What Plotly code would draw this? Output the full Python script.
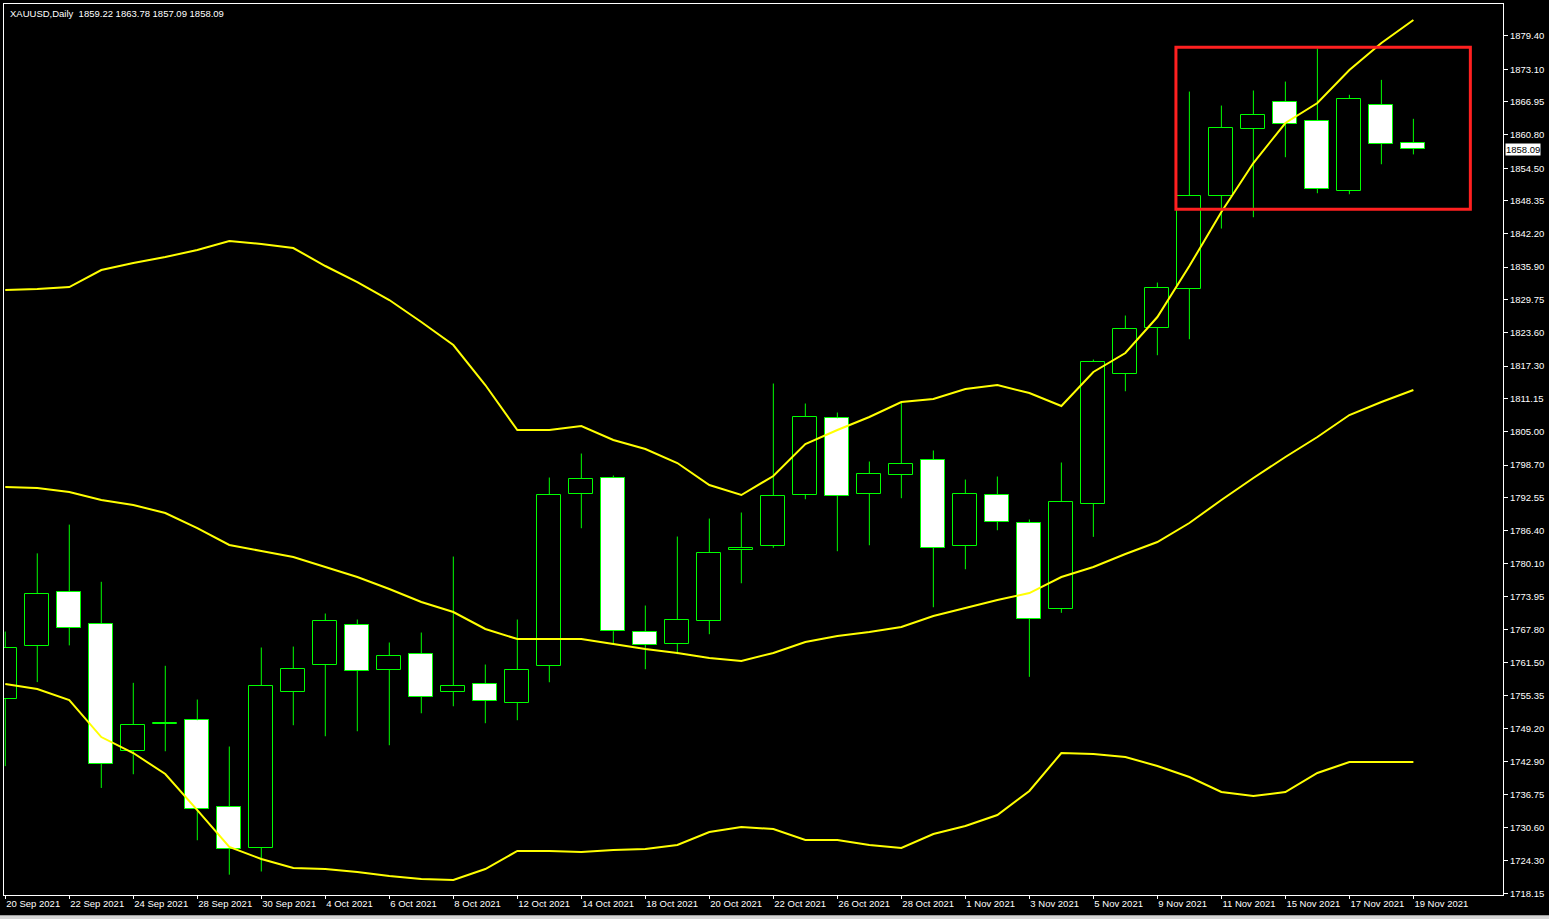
import plotly.graph_objects as go

# ---------------- data ----------------
dates = [
    "20 Sep 2021", "21 Sep 2021", "22 Sep 2021", "23 Sep 2021", "24 Sep 2021",
    "27 Sep 2021", "28 Sep 2021", "29 Sep 2021", "30 Sep 2021", "1 Oct 2021",
    "4 Oct 2021", "5 Oct 2021", "6 Oct 2021", "7 Oct 2021", "8 Oct 2021",
    "11 Oct 2021", "12 Oct 2021", "13 Oct 2021", "14 Oct 2021", "15 Oct 2021",
    "18 Oct 2021", "19 Oct 2021", "20 Oct 2021", "21 Oct 2021", "22 Oct 2021",
    "25 Oct 2021", "26 Oct 2021", "27 Oct 2021", "28 Oct 2021", "29 Oct 2021",
    "1 Nov 2021", "2 Nov 2021", "3 Nov 2021", "4 Nov 2021", "5 Nov 2021",
    "8 Nov 2021", "9 Nov 2021", "10 Nov 2021", "11 Nov 2021", "12 Nov 2021",
    "15 Nov 2021", "16 Nov 2021", "17 Nov 2021", "18 Nov 2021", "19 Nov 2021",
]

opens = [1754.75, 1764.70, 1774.90, 1768.85, 1744.98, 1750.10, 1750.73, 1734.45, 1726.74, 1756.07,
         1761.14, 1768.66, 1760.20, 1763.21, 1756.07, 1757.57, 1754.00, 1760.96, 1793.29, 1796.29,
         1767.35, 1765.09, 1769.41, 1782.76, 1783.51, 1793.10, 1807.50, 1793.29, 1796.86, 1799.68,
         1783.51, 1793.10, 1787.84, 1771.67, 1791.41, 1815.84, 1824.49, 1831.82, 1849.30, 1861.90,
         1866.97, 1863.40, 1850.24, 1866.40, 1859.22]
highs = [1767.40, 1782.10, 1787.50, 1776.75, 1757.76, 1760.96, 1754.62, 1745.79, 1764.40, 1764.58,
         1770.79, 1769.66, 1765.34, 1767.21, 1781.50, 1761.20, 1769.66, 1796.35, 1800.86, 1796.73,
         1772.29, 1785.26, 1788.64, 1789.77, 1814.02, 1810.26, 1808.57, 1799.36, 1810.64, 1801.43,
         1795.97, 1796.54, 1788.46, 1799.17, 1818.53, 1826.80, 1833.00, 1868.90, 1866.27, 1869.10,
         1870.78, 1876.99, 1868.29, 1871.10, 1863.78]
lows = [1742.10, 1757.90, 1764.80, 1738.00, 1740.58, 1744.90, 1728.17, 1721.70, 1722.30, 1749.79,
        1747.72, 1748.66, 1746.03, 1752.04, 1753.36, 1750.17, 1750.73, 1757.87, 1786.82, 1765.09,
        1760.32, 1763.14, 1766.90, 1776.48, 1783.14, 1792.27, 1782.50, 1783.62, 1792.46, 1771.97,
        1779.11, 1786.44, 1758.89, 1770.92, 1785.20, 1812.57, 1819.34, 1822.35, 1843.15, 1845.28,
        1856.56, 1849.79, 1849.60, 1855.24, 1857.09]
closes = [1764.34, 1774.50, 1768.10, 1742.50, 1749.87, 1750.25, 1734.08, 1726.56, 1757.20, 1760.39,
          1769.47, 1760.02, 1762.84, 1755.13, 1757.20, 1754.38, 1760.20, 1793.10, 1796.11, 1767.46,
          1764.90, 1769.60, 1782.20, 1783.14, 1792.90, 1807.76, 1792.91, 1797.05, 1798.93, 1783.14,
          1793.29, 1788.02, 1769.79, 1791.78, 1818.10, 1824.30, 1832.00, 1849.30, 1862.08, 1864.53,
          1862.84, 1850.62, 1867.53, 1859.08, 1858.09]

bb_upper = [1831.60, 1831.79, 1832.16, 1835.36, 1836.67, 1837.80, 1839.12, 1840.81, 1840.25, 1839.49,
            1836.11, 1833.10, 1829.72, 1825.58, 1821.26, 1813.74, 1805.28, 1805.28, 1806.04, 1803.40,
            1801.71, 1799.08, 1794.95, 1793.07, 1796.64, 1802.65, 1805.28, 1807.73, 1810.55, 1811.11,
            1812.99, 1813.74, 1812.24, 1809.79, 1816.19, 1819.76, 1826.52, 1836.11, 1846.26, 1855.47,
            1862.99, 1866.75, 1872.95, 1878.03, 1882.35]
bb_middle = [1794.57, 1794.38, 1793.63, 1792.13, 1791.19, 1789.68, 1786.86, 1783.67, 1782.54, 1781.41,
             1779.53, 1777.65, 1775.40, 1772.95, 1771.07, 1767.88, 1766.00, 1766.00, 1766.00, 1765.06,
             1764.12, 1763.37, 1762.43, 1761.86, 1763.37, 1765.43, 1766.56, 1767.31, 1768.25, 1770.32,
             1771.82, 1773.33, 1774.64, 1777.65, 1779.53, 1781.98, 1784.23, 1787.80, 1792.13, 1796.26,
             1800.21, 1803.97, 1808.10, 1810.55, 1812.80]
bb_lower = [1757.54, 1756.60, 1754.53, 1747.57, 1744.57, 1740.62, 1733.85, 1726.90, 1724.64, 1722.95,
            1722.76, 1722.20, 1721.45, 1720.88, 1720.70, 1722.76, 1726.15, 1726.15, 1725.96, 1726.34,
            1726.52, 1727.28, 1729.72, 1730.66, 1730.28, 1728.22, 1728.22, 1727.28, 1726.71, 1729.34,
            1730.85, 1732.92, 1737.43, 1744.57, 1744.38, 1743.82, 1742.13, 1740.06, 1737.24, 1736.49,
            1737.24, 1740.81, 1742.88, 1742.88, 1742.88]

price_ticks = [1879.40, 1873.10, 1866.95, 1860.80, 1854.50, 1848.35, 1842.20, 1835.90, 1829.75,
               1823.60, 1817.30, 1811.15, 1805.00, 1798.70, 1792.55, 1786.40, 1780.10, 1773.95,
               1767.80, 1761.50, 1755.35, 1749.20, 1742.90, 1736.75, 1730.60, 1724.30, 1718.15]

header_text = "XAUUSD,Daily\u00a0 1859.22 1863.78 1857.09 1858.09"
last_price = 1858.09

# highlighted zone (bar index range and price range)
box_bar_from, box_bar_to = 36.58, 45.78
box_price_low, box_price_high = 1846.77, 1877.22

# ---------------- styling ----------------
LIME = "#00ff00"
YELLOW = "#ffff00"
FONT = "Liberation Sans, Arial, sans-serif"

idx = list(range(len(dates)))
body_base = [min(o, c) for o, c in zip(opens, closes)]
body_len = [abs(c - o) for o, c in zip(opens, closes)]
body_fill = ["#000000" if c >= o else "#ffffff" for o, c in zip(opens, closes)]

wick_x, wick_y = [], []
for i, o, h, l, c in zip(idx, opens, highs, lows, closes):
    top, bot = max(o, c), min(o, c)
    wick_x += [i, i, None, i, i, None]
    wick_y += [h, top, None, bot, l, None]

fig = go.Figure()
fig.add_trace(go.Bar(
    x=idx, y=body_len, base=body_base, width=0.75,
    marker=dict(color=body_fill, line=dict(color=LIME, width=1)),
    hoverinfo="skip",
))
fig.add_trace(go.Scatter(x=wick_x, y=wick_y, mode="lines",
                         line=dict(color=LIME, width=1), hoverinfo="skip"))
for band in (bb_upper, bb_middle, bb_lower):
    fig.add_trace(go.Scatter(x=idx, y=band, mode="lines",
                             line=dict(color=YELLOW, width=2), hoverinfo="skip"))

fig.add_shape(type="rect", xref="x", yref="y",
              x0=box_bar_from, x1=box_bar_to, y0=box_price_low, y1=box_price_high,
              line=dict(color="#ff2020", width=3), fillcolor="rgba(0,0,0,0)")

# light window border strip at the bottom
fig.add_shape(type="rect", xref="paper", yref="paper",
              x0=-0.01, x1=1.04, y0=-0.0275, y1=-0.0226,
              line=dict(width=0), fillcolor="#d4d4d4", layer="above")

fig.add_annotation(xref="paper", yref="paper", x=0.0027, y=1, xanchor="left", yanchor="top",
                   yshift=-2, text=header_text, showarrow=False,
                   font=dict(color="white", size=9.5, family=FONT))
fig.add_annotation(xref="paper", yref="y", x=1, y=last_price, xanchor="left", yanchor="middle",
                   xshift=2, text=f"{last_price:.2f}", showarrow=False,
                   bgcolor="white", borderpad=0,
                   font=dict(color="black", size=9.5, family=FONT))

fig.update_layout(
    width=1549, height=919,
    margin=dict(l=4, r=46, t=4, b=24),
    paper_bgcolor="black", plot_bgcolor="black",
    showlegend=False, barmode="overlay", bargap=0, hovermode=False,
    xaxis=dict(
        range=[-0.04, 46.8],
        tickvals=idx[::2], ticktext=dates[::2],
        ticks="outside", ticklen=3, tickcolor="white",
        ticklabelposition="outside right",
        showline=True, linecolor="white", linewidth=1, mirror=True,
        showgrid=False, zeroline=False,
        tickfont=dict(color="white", size=9.5, family=FONT),
    ),
    yaxis=dict(
        side="right", range=[1717.88, 1885.36],
        tickvals=price_ticks, ticktext=[f"{v:.2f}" for v in price_ticks],
        ticks="outside", ticklen=4, tickcolor="white",
        showline=True, linecolor="white", linewidth=1, mirror=True,
        showgrid=False, zeroline=False,
        tickfont=dict(color="white", size=9.5, family=FONT),
    ),
)

fig.write_html(
    "out.html",
    config={"displayModeBar": False},
    post_script="document.body.style.margin='0';document.body.style.overflow='hidden';",
)
